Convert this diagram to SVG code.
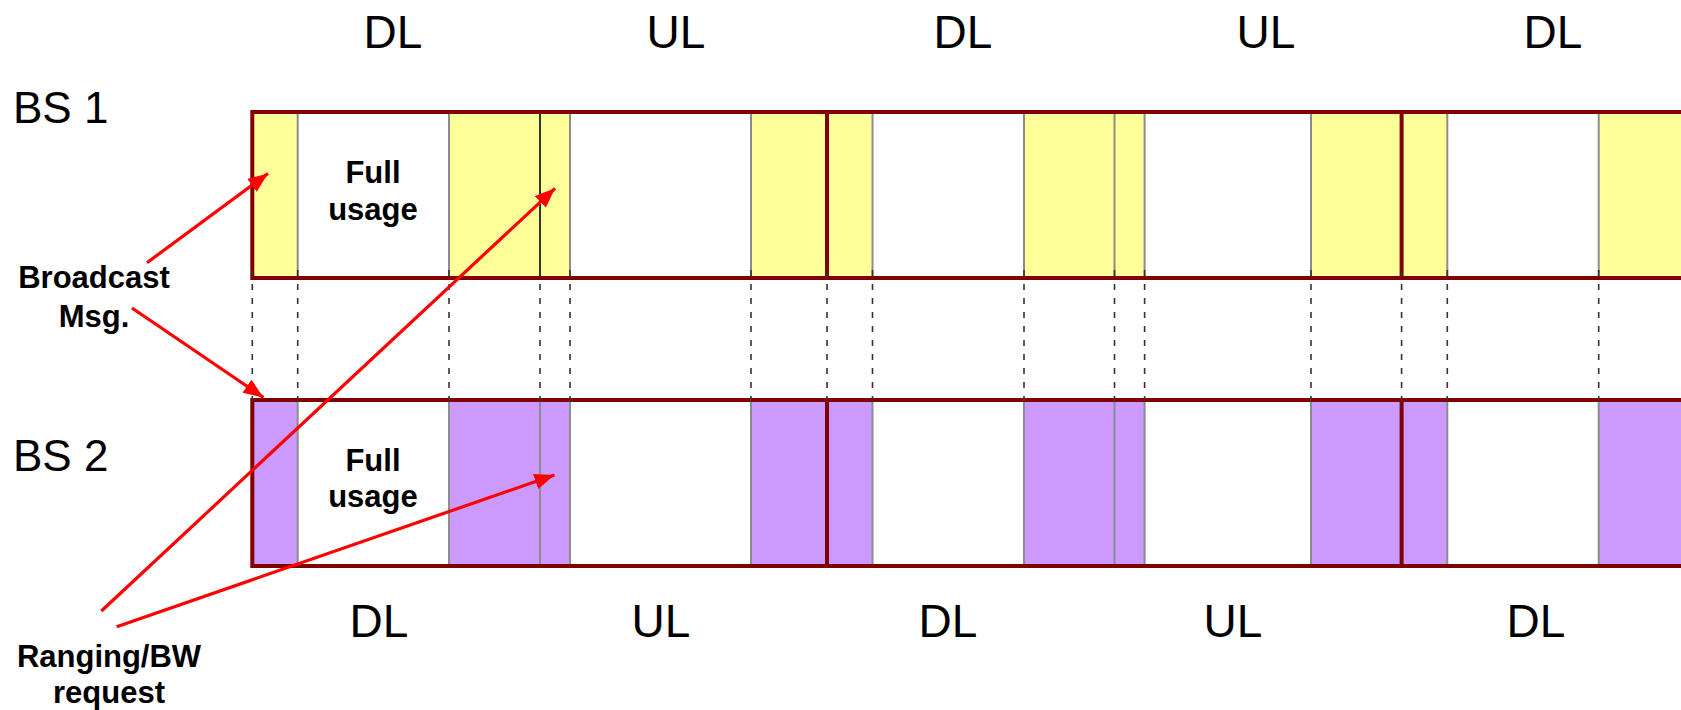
<svg xmlns="http://www.w3.org/2000/svg" width="1681" height="710" viewBox="0 0 1681 710">
<style>
.lbl{font-family:"Liberation Sans",Arial,sans-serif;font-size:46px;fill:#000;text-anchor:middle}
.bs{font-family:"Liberation Sans",Arial,sans-serif;font-size:44px;fill:#000}
.b{font-family:"Liberation Sans",Arial,sans-serif;font-size:31px;font-weight:bold;fill:#000;text-anchor:middle}
.y{fill:#FFFF99}
.p{fill:#CC99FF}
.thin{stroke:#8c8c8c;stroke-width:2;fill:none}
.dark{stroke:#333;stroke-width:2;fill:none}
.thick{stroke:#800000;stroke-width:4;fill:none}
.frame{stroke:#800000;stroke-width:4;fill:none}
.dash{stroke:#333;stroke-width:1.6;stroke-dasharray:6 8;fill:none}
.arr{stroke:#FF0000;stroke-width:3.2;fill:none;marker-end:url(#ah)}
</style>
<defs>
<marker id="ah" markerUnits="userSpaceOnUse" markerWidth="22" markerHeight="18" refX="20" refY="8" orient="auto">
<path d="M0,0 L20,8 L0,16 Z" fill="#FF0000"/>
</marker>
</defs>
<rect width="1681" height="710" fill="#fff"/>

<g id="top-labels">
<text class="lbl" x="393" y="48">DL</text>
<text class="lbl" x="676" y="48">UL</text>
<text class="lbl" x="963" y="48">DL</text>
<text class="lbl" x="1266" y="48">UL</text>
<text class="lbl" x="1553" y="48">DL</text>
</g>
<g id="bottom-labels">
<text class="lbl" x="379" y="637">DL</text>
<text class="lbl" x="661" y="637">UL</text>
<text class="lbl" x="948" y="637">DL</text>
<text class="lbl" x="1233" y="637">UL</text>
<text class="lbl" x="1536" y="637">DL</text>
</g>

<g id="bs1">
<text class="bs" x="13" y="123">BS 1</text>
<rect class="y" x="252" y="112" width="45.7" height="166"/>
<rect class="y" x="449" y="112" width="121" height="166"/>
<rect class="y" x="751" y="112" width="121.5" height="166"/>
<rect class="y" x="1024" y="112" width="120.6" height="166"/>
<rect class="y" x="1311" y="112" width="136.3" height="166"/>
<rect class="y" x="1598.7" y="112" width="100" height="166"/>
<path class="thin" d="M297.7,112V278M449,112V278M570,112V278M751,112V278M872.5,112V278M1024,112V278M1114.5,112V278M1144.6,112V278M1311,112V278M1447.3,112V278M1598.7,112V278"/>
<path class="dark" d="M540,112V278"/>
<path class="thick" d="M827,112V278M1401.6,112V278"/>
<rect class="frame" x="252.3" y="112" width="1460" height="166"/>
<text class="b" x="373" y="183">Full</text>
<text class="b" x="373" y="220">usage</text>
</g>

<g id="bs2">
<text class="bs" x="13" y="471">BS 2</text>
<rect class="p" x="252" y="400" width="45.7" height="166"/>
<rect class="p" x="449" y="400" width="121" height="166"/>
<rect class="p" x="751" y="400" width="121.5" height="166"/>
<rect class="p" x="1024" y="400" width="120.6" height="166"/>
<rect class="p" x="1311" y="400" width="136.3" height="166"/>
<rect class="p" x="1598.7" y="400" width="100" height="166"/>
<path class="thin" d="M297.7,400V566M449,400V566M540,400V566M570,400V566M751,400V566M872.5,400V566M1024,400V566M1114.5,400V566M1144.6,400V566M1311,400V566M1447.3,400V566M1598.7,400V566"/>
<path class="thick" d="M827,400V566M1401.6,400V566"/>
<rect class="frame" x="252.3" y="400" width="1460" height="166"/>
<text class="b" x="373" y="471">Full</text>
<text class="b" x="373" y="507">usage</text>
</g>

<g id="broadcast-label">
<text class="b" x="94" y="288">Broadcast</text>
<text class="b" x="94" y="327">Msg.</text>
</g>
<g id="ranging-label">
<text class="b" x="109" y="667">Ranging/BW</text>
<text class="b" x="109" y="703">request</text>
</g>

<g id="connectors">
<path class="dash" d="M252.3,270V402M297.7,270V402M449,270V402M540,270V402M570,270V402M751,270V402M827,270V402M872.5,270V402M1024,270V402M1114.5,270V402M1144.6,270V402M1311,270V402M1401.6,270V402M1447.3,270V402M1598.7,270V402"/>
<line class="arr" x1="147" y1="262.7" x2="268" y2="173.5"/>
<line class="arr" x1="132" y1="308" x2="263.5" y2="397.5"/>
<line class="arr" x1="101.4" y1="611" x2="555" y2="188.3"/>
<line class="arr" x1="116.7" y1="626.7" x2="554.5" y2="475"/>
</g>
</svg>
